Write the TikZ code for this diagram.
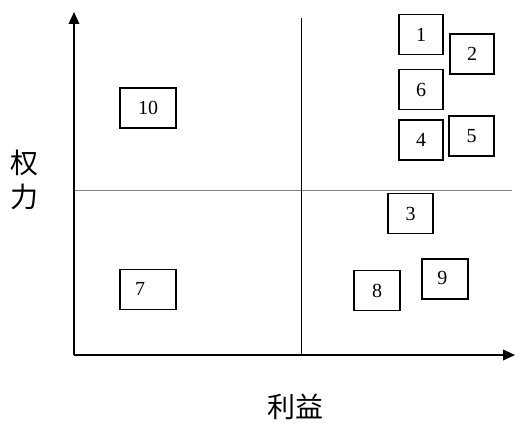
\documentclass[tikz,border=0pt]{standalone}
\usepackage{fontspec}
\setmainfont{Liberation Serif}
\newfontfamily\cjk{Noto Sans CJK SC}
\usetikzlibrary{arrows.meta}

\begin{document}
\begin{tikzpicture}[x=0.75pt,y=-0.75pt,
  box/.style={draw,line width=1.4pt,minimum width=33.5pt,minimum height=30pt,
     inner sep=0pt,font=\fontsize{15}{18}\selectfont},
  widebox/.style={box,minimum width=42.5pt},
  axis/.style={line width=1.1pt,-{Triangle[length=9pt,width=8pt]}},
  split/.style={line width=0.5pt}]
\useasboundingbox (0,0) rectangle (527,431);
% axes and quadrants
\coordinate (o) at (74,355);
\coordinate (ytip) at (74,12);
\coordinate (xtip) at (515,355);
\coordinate (vtop) at (301,18);
\coordinate (vbot) at (301,355);
\coordinate (hl) at (74,190);
\coordinate (hr) at (512,190);
\draw[split,gray] (hl)--(hr);
\draw[split] (vtop)--(vbot);
\draw[axis] (o)--(ytip);
\draw[axis] (o)--(xtip);
% stakeholders
\node[box] (s1) at (421,34.5) {1};
\node[box] (s2) at (472,54) {2};
\node[box] (s6) at (421,89.5) {6};
\node[box] (s4) at (421,140) {4};
\node[box] (s5) at (471.5,136) {5};
\node[box] (s3) at (410.5,213.5) {3};
\node[box,minimum width=35pt] (s9) at (445,279) {\raisebox{2pt}{9}\kern4pt};
\node[box,minimum width=35pt] (s8) at (377,290.5) {8};
\node[widebox] (s10) at (148,108) {10};
\node[widebox] (s7) at (148,289.5) {\raisebox{1pt}{7}\kern12pt};
% axis labels
\node[font=\cjk\fontsize{21}{25}\selectfont,align=center] (power) at (24,180) {权\\力};
\node[font=\cjk\fontsize{21}{25}\selectfont] (gain) at (295,407) {利益};
\end{tikzpicture}
\end{document}
